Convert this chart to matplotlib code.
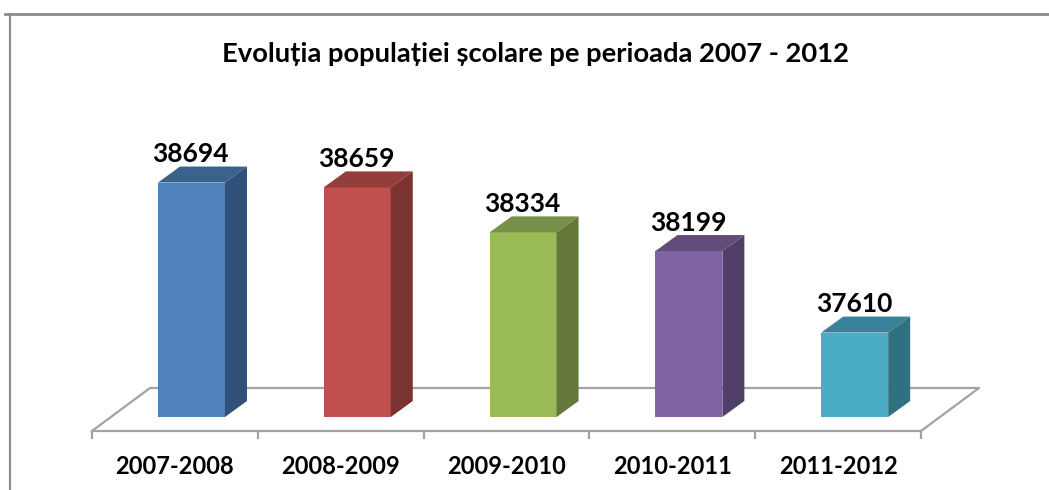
import matplotlib
matplotlib.use("Agg")
from matplotlib import pyplot as plt
from matplotlib.lines import Line2D
from matplotlib.patches import Polygon

#---------------------------------------------------------------------------------------
# Data
#---------------------------------------------------------------------------------------

categories = ["2007-2008", "2008-2009", "2009-2010", "2010-2011", "2011-2012"]
values = [38694, 38659, 38334, 38199, 37610]

front_colors = ["#4f81bd", "#c0504d", "#9bbb59", "#8064a2", "#4bacc6"]
top_colors = ["#3b618f", "#933d3b", "#77904a", "#624c7c", "#388299"]
side_colors = ["#2f5079", "#7b3331", "#64783a", "#523f69", "#30707f"]

title = "Evoluția populației școlare pe perioada 2007 - 2012"

#---------------------------------------------------------------------------------------
# Layout, the fake 3D depth is given in data units
#---------------------------------------------------------------------------------------

W, H = 1049, 490
PX_LEFT, PX_RIGHT, PX_FLOOR, PX_TOP = 92, 921, 431, 100
PX_PER_UNIT = 0.1384

base = 37000
ymin = base - (PX_FLOOR - 417) / PX_PER_UNIT
ymax = ymin + (PX_FLOOR - PX_TOP) / PX_PER_UNIT

bar_shift = 0.1
bar_width = 0.404
depth_x = 22 / ((PX_RIGHT - PX_LEFT) / 5)
depth_y = 16 / PX_PER_UNIT
floor_x = 58 / ((PX_RIGHT - PX_LEFT) / 5)
floor_y = 43 / PX_PER_UNIT

GREY = "#a3a3a3"

plt.rcParams["font.family"] = ["Lato", "DejaVu Sans"]

fig = plt.figure(figsize=(W / 100, H / 100), dpi=100, facecolor="white")
ax = fig.add_axes([PX_LEFT / W, 1 - PX_FLOOR / H, (PX_RIGHT - PX_LEFT) / W, (PX_FLOOR - PX_TOP) / H])
ax.set_xlim(-0.5, len(values) - 0.5)
ax.set_ylim(ymin, ymax)
ax.patch.set_visible(False)

for s in ["top", "left", "right"]:
    ax.spines[s].set_visible(False)
ax.spines["bottom"].set_color(GREY)
ax.spines["bottom"].set_linewidth(1.6)

# floor behind the bars
left, right = ax.get_xlim()
ax.plot([left, left + floor_x, right + floor_x, right],
        [ymin, ymin + floor_y, ymin + floor_y, ymin],
        color=GREY, lw=1.6, clip_on=False, zorder=1)

# bars: front face with the library, top and side as polygons on the same scale
for i, v in enumerate(values):
    x0 = i + bar_shift - bar_width / 2
    x1 = i + bar_shift + bar_width / 2
    ax.bar(i + bar_shift, v - base, bottom=base, width=bar_width,
           color=front_colors[i], edgecolor="none", zorder=3)
    ax.add_patch(Polygon([(x0, v), (x1, v), (x1 + depth_x, v + depth_y), (x0 + depth_x, v + depth_y)],
                         closed=True, facecolor=top_colors[i], edgecolor="none", zorder=3, clip_on=False))
    ax.add_patch(Polygon([(x1, base), (x1 + depth_x, base + depth_y), (x1 + depth_x, v + depth_y), (x1, v)],
                         closed=True, facecolor=side_colors[i], edgecolor="none", zorder=3, clip_on=False))
    ax.annotate(str(v), (i + bar_shift, v), xytext=(-0.5, 20.5), textcoords="offset points",
                ha="center", va="center", fontsize=19, fontweight="bold", color="black", zorder=4)

# ticks on the category borders, labels in the middle
ax.set_xticks([i - 0.5 for i in range(len(values) + 1)])
ax.set_xticklabels([])
ax.set_xticks(range(len(values)), minor=True)
ax.set_xticklabels(categories, minor=True, fontsize=17, fontweight="bold", color="black")
ax.tick_params(axis="x", which="major", length=6, width=1.6, color=GREY)
ax.tick_params(axis="x", which="minor", length=0, pad=17)
ax.set_yticks([])

fig.text(536 / W, 1 - 54 / H, title, ha="center", va="center", fontsize=19.7, fontweight="bold", color="black")

# chart frame, cut by the image on the right and the bottom
FRAME = "#8c8c8c"
fig.add_artist(Line2D([5 / W, 1], [1 - 14 / H, 1 - 14 / H], color=FRAME, lw=2))
fig.add_artist(Line2D([9.5 / W, 9.5 / W], [1 - 14 / H, 0], color=FRAME, lw=1.6))

fig.savefig("out.png", dpi=100)
